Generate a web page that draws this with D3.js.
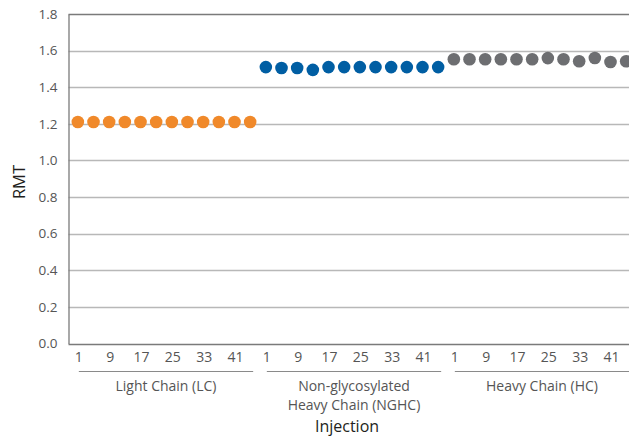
<!DOCTYPE html>
<html>
<head>
<meta charset="utf-8">
<script src="https://cdn.jsdelivr.net/npm/d3@7"></script>
<style>
  body { margin: 0; background: #fff; }
  svg { font-family: "Open Sans", "Noto Sans", sans-serif; }
</style>
</head>
<body>
<svg id="chart" width="629" height="438"></svg>
<script>
// data
var groups = ["Light Chain (LC)", "Non-glycosylated\nHeavy Chain (NGHC)", "Heavy Chain (HC)"];
var groupKeys = ["LC", "NGHC", "HC"];
var colors = ["#f0892a", "#005ea3", "#6d6e71"];
var injections = [1, 5, 9, 13, 17, 21, 25, 29, 33, 37, 41, 45];
var tickLabels = [1, 9, 17, 25, 33, 41];
var lcValues = [1.21, 1.21, 1.21, 1.21, 1.21, 1.21, 1.21, 1.21, 1.21, 1.21, 1.21, 1.21];
var nghcValues = [1.51, 1.505, 1.505, 1.495, 1.51, 1.51, 1.51, 1.51, 1.51, 1.51, 1.51, 1.51];
var hcValues = [1.553, 1.553, 1.553, 1.553, 1.553, 1.553, 1.559, 1.553, 1.542, 1.56, 1.538, 1.542];
var yTicks = [0, 0.2, 0.4, 0.6, 0.8, 1.0, 1.2, 1.4, 1.6, 1.8];

var allValues = [lcValues, nghcValues, hcValues];
var points = [];
groupKeys.forEach(function(g, gi) {
  injections.forEach(function(inj, i) {
    points.push({ group: g, gi: gi, inj: inj, key: g + "-" + inj, value: allValues[gi][i] });
  });
});

var svg = d3.select("#chart");
var width = +svg.attr("width");
var height = +svg.attr("height");
var padding = { top: 14, left: 68.5, bottom: 343.5 };

var xScale = d3.scaleBand()
  .domain(points.map(d => d.key))
  .range([70, 634])
  .padding(0);
var cx = k => xScale(k) + xScale.bandwidth() / 2;

var yScale = d3.scaleLinear()
  .domain([0, 1.8])
  .range([padding.bottom, padding.top]);

//!gridlines
svg.append("g")
  .selectAll("line")
  .data(yTicks)
  .join("line")
    .attr("x1", padding.left)
    .attr("x2", width)
    .attr("y1", d => Math.round(yScale(d)) + 0.5)
    .attr("y2", d => Math.round(yScale(d)) + 0.5)
    .attr("stroke", d => (d === 0 || d === 1.8) ? "#7a7a7a" : "#b8b8b8")
    .attr("stroke-width", 1.3);

//!y-axis
var yAxis = d3.axisLeft(yScale)
  .tickValues(yTicks)
  .tickFormat(d3.format(".1f"))
  .tickSize(0)
  .tickPadding(11);

svg.append("g")
  .attr("transform", "translate(" + padding.left + ",0)")
  .call(yAxis)
  .call(g => g.select(".domain").attr("stroke", "#7a7a7a").attr("stroke-width", 1.3))
  .call(g => g.selectAll("text")
    .attr("fill", "#555")
    .style("font-size", "13.5px")
    .style("font-family", "Open Sans"));

//!points
svg.append("g")
  .selectAll("circle")
  .data(points)
  .join("circle")
    .attr("cx", d => cx(d.key))
    .attr("cy", d => yScale(d.value))
    .attr("r", 6.3)
    .attr("fill", d => colors[d.gi]);

//!x tick labels
var ticks = [];
groupKeys.forEach(g => tickLabels.forEach(t => ticks.push({ key: g + "-" + t, label: t })));

svg.append("g")
  .selectAll("text")
  .data(ticks)
  .join("text")
    .attr("x", d => cx(d.key) + 1)
    .attr("y", 362)
    .attr("text-anchor", "middle")
    .attr("fill", "#555")
    .style("font-size", "14px")
    .text(d => d.label);

//!group brackets
var groupG = svg.append("g");
groupKeys.forEach(function(g, gi) {
  var x0 = cx(g + "-" + injections[0]) + 1;
  var x1 = cx(g + "-" + injections[injections.length - 1]) + 3;
  groupG.append("line")
    .attr("x1", x0).attr("x2", x1)
    .attr("y1", 371.5).attr("y2", 371.5)
    .attr("stroke", "#8a8a8a")
    .attr("stroke-width", 1.2);
  var t = groupG.append("text")
    .attr("x", (x0 + x1) / 2)
    .attr("y", 391)
    .attr("text-anchor", "middle")
    .attr("fill", "#555")
    .style("font-size", "14px");
  groups[gi].split("\n").forEach(function(line, li) {
    t.append("tspan")
      .attr("x", (x0 + x1) / 2)
      .attr("dy", li === 0 ? 0 : 19)
      .text(line);
  });
});

//!axis titles
svg.append("text")
  .attr("x", 347)
  .attr("y", 432)
  .attr("text-anchor", "middle")
  .attr("fill", "#231f20")
  .style("font-size", "16px")
  .text("Injection");

svg.append("text")
  .attr("transform", "rotate(-90)")
  .attr("x", -182)
  .attr("y", 25)
  .attr("text-anchor", "middle")
  .attr("fill", "#231f20")
  .style("font-size", "16.5px")
  .text("RMT");
</script>
</body>
</html>
